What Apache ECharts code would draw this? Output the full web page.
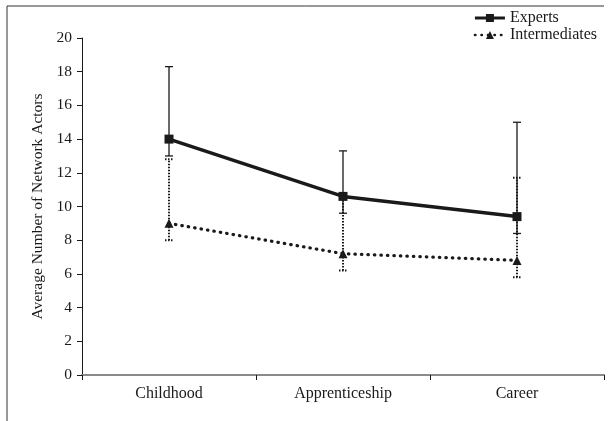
<!DOCTYPE html>
<html>
<head>
<meta charset="utf-8">
<script src="https://cdn.jsdelivr.net/npm/echarts@6/dist/echarts.min.js"></script>
<style>html,body{margin:0;padding:0;background:#fff}#c{width:616px;height:421px}</style>
</head>
<body>
<div id="c"></div>
<script>
var categories = ['Childhood', 'Apprenticeship', 'Career'];
var expertsMean = [14.0, 10.6, 9.4];
var expertsHigh = [18.3, 13.3, 15.0];
var expertsLow = [13.0, 9.6, 8.4];
var interMean = [9.0, 7.2, 6.8];
var interHigh = [12.8, 10.6, 11.7];
var interLow = [8.0, 6.2, 5.8];
var yTicks = [0, 2, 4, 6, 8, 10, 12, 14, 16, 18, 20];

var FONT = 'Liberation Serif';
var chart = echarts.init(document.getElementById('c'));

function errData(low, high) {
  return categories.map(function (c, i) { return [i, low[i], high[i]]; });
}
function errRender(dashed) {
  return function (params, api) {
    var x = api.value(0);
    var lo = api.coord([x, api.value(1)]);
    var hi = api.coord([x, api.value(2)]);
    var w = 4;
    var style = { stroke: '#1a1a1a', lineWidth: dashed ? 2 : 1.3, lineDash: dashed ? [1.5, 1.5] : null };
    return {
      type: 'group',
      children: [
        { type: 'line', shape: { x1: lo[0], y1: lo[1], x2: hi[0], y2: hi[1] }, style: style },
        { type: 'line', shape: { x1: hi[0] - w, y1: hi[1], x2: hi[0] + w, y2: hi[1] }, style: style },
        { type: 'line', shape: { x1: lo[0] - w, y1: lo[1], x2: lo[0] + w, y2: lo[1] }, style: style }
      ]
    };
  };
}

chart.setOption({
  animation: false,
  backgroundColor: '#fff',
  textStyle: { fontFamily: FONT },
  grid: { left: 82, right: 12, top: 38, bottom: 46 },
  legend: {
    orient: 'vertical',
    right: 14,
    top: 5,
    itemWidth: 30,
    itemHeight: 10,
    itemGap: 1,
    textStyle: { fontFamily: FONT, fontSize: 16, color: '#1a1a1a' },
    data: [
      { name: 'Experts', lineStyle: { width: 3 } },
      { name: 'Intermediates', lineStyle: { width: 2.5 } }
    ]
  },
  xAxis: {
    type: 'category',
    data: categories,
    boundaryGap: true,
    axisLine: { lineStyle: { color: '#8a8a8a', width: 2 } },
    axisTick: { show: true, length: 5, lineStyle: { color: '#1a1a1a', width: 1 } },
    axisLabel: { fontFamily: FONT, fontSize: 16, color: '#1a1a1a', margin: 11 },
    splitLine: { show: false }
  },
  yAxis: {
    type: 'value',
    min: yTicks[0],
    max: yTicks[yTicks.length - 1],
    interval: 2,
    name: 'Average Number of Network Actors',
    nameLocation: 'middle',
    nameGap: 36,
    nameTextStyle: { fontFamily: FONT, fontSize: 15.5, color: '#1a1a1a' },
    axisLine: { show: true, lineStyle: { color: '#1a1a1a', width: 1 } },
    axisTick: { show: true, inside: false, length: 5, lineStyle: { color: '#1a1a1a' } },
    axisLabel: { fontFamily: FONT, fontSize: 15.5, color: '#1a1a1a', margin: 10 },
    splitLine: { show: false }
  },
  series: [
    {
      name: 'Experts',
      type: 'line',
      data: expertsMean,
      symbol: 'rect',
      symbolSize: 9,
      itemStyle: { color: '#1a1a1a' },
      lineStyle: { color: '#1a1a1a', width: 3.5 },
      z: 5
    },
    {
      name: 'Intermediates',
      type: 'line',
      data: interMean,
      symbol: 'triangle',
      symbolSize: 9,
      itemStyle: { color: '#1a1a1a' },
      lineStyle: { color: '#1a1a1a', width: 3.2, type: [0.5, 6], cap: 'round' },
      z: 5
    },
    {
      name: 'ExpertsErr',
      type: 'custom',
      renderItem: errRender(false),
      data: errData(expertsLow, expertsHigh),
      encode: { x: 0, y: [1, 2] },
      z: 3
    },
    {
      name: 'InterErr',
      type: 'custom',
      renderItem: errRender(true),
      data: errData(interLow, interHigh),
      encode: { x: 0, y: [1, 2] },
      z: 3
    }
  ],
  graphic: [
    { type: 'line', shape: { x1: 7, y1: 6, x2: 604, y2: 6 }, style: { stroke: '#333', lineWidth: 1 } },
    { type: 'line', shape: { x1: 7, y1: 6, x2: 7, y2: 421 }, style: { stroke: '#333', lineWidth: 1 } }
  ]
});
</script>
</body>
</html>
